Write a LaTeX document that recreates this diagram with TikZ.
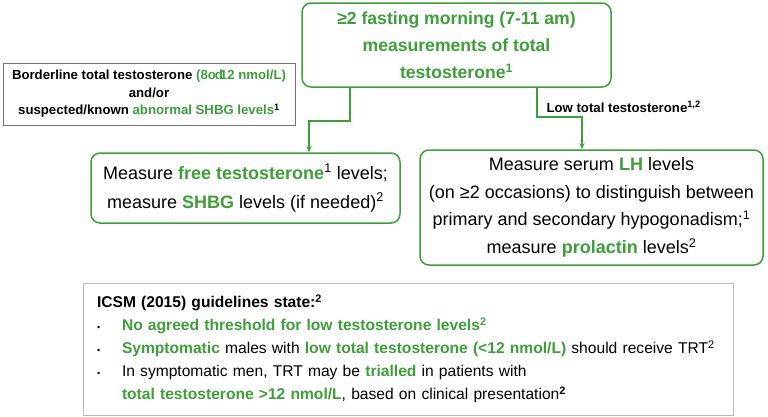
\documentclass[tikz,border=0pt]{standalone}
\usepackage{fontspec}
\setmainfont{Liberation Sans}
\usetikzlibrary{arrows.meta}
\definecolor{tgreen}{RGB}{62,158,58}
\newcommand{\gr}[1]{\textcolor{tgreen}{\textbf{#1}}}
\newcommand{\up}[1]{\textsuperscript{#1}}

\begin{document}
\begin{tikzpicture}[x=1pt,y=-1pt,
  gbox/.style={draw=tgreen,line width=1.5pt,rounded corners=9pt,align=center},
  graybox/.style={draw=black!55,line width=1pt,align=center},
  flow/.style={draw=tgreen,line width=1.3pt,-{Stealth[length=6pt,width=5pt]}}]
  \useasboundingbox (0,0) rectangle (768,416);

  \node[gbox,minimum width=309pt,minimum height=84pt,
    font=\fontsize{17.6}{27}\selectfont\bfseries,text=tgreen] (top) at (456.5,45)
    {≥2 fasting morning (7-11 am)\\measurements of total\\testosterone\up{1}};
  \node[graybox,minimum width=292pt,minimum height=62pt,
    font=\fontsize{13.2}{17.5}\selectfont\bfseries] (border) at (149,94)
    {Borderline total testosterone \textcolor{tgreen}{(8o\kern-1pt d\kern-3pt 12 nmol/L)}\\and/or\\suspected/known \textcolor{tgreen}{abnormal SHBG levels}\up{1}};
  \node[gbox,minimum width=309pt,minimum height=70pt,
    font=\fontsize{18}{29}\selectfont] (free) at (245.5,188)
    {Measure \gr{free testosterone}\up{1} levels;\\measure \gr{SHBG} levels (if needed)\up{2}};
  \node[gbox,minimum width=343pt,minimum height=115pt,
    font=\fontsize{18}{27.5}\selectfont] (lh) at (591.5,207.5)
    {Measure serum \gr{LH} levels\\(on ≥2 occasions) to distinguish between\\primary and secondary hypogonadism;\up{1}\\measure \gr{prolactin} levels\up{2}};
  \node[draw=black!28,line width=1pt,minimum width=650pt,minimum height=132pt,
    inner xsep=14pt,text width=622pt,align=left,
    font=\fontsize{15.6}{23}\selectfont] (icsm) at (408,349)
    {\textbf{ICSM (2015) guidelines state:\up{2}}\\
     \makebox[25pt][l]{\small•}\gr{No agreed threshold for low testosterone levels\up{2}}\\
     \makebox[25pt][l]{\small•}\gr{Symptomatic} males with \gr{low total testosterone (<12 nmol/L)} should receive TRT\up{2}\\
     \makebox[25pt][l]{\small•}In symptomatic men, TRT may be \gr{trialled} in patients with\\
     \hspace*{25pt}\gr{total testosterone >12 nmol/L}, based on clinical presentation\up{\textbf{2}}};

  \coordinate (j1) at (350,121);
  \coordinate (j2) at (309,121);
  \coordinate (j3) at (537,117);
  \coordinate (j4) at (582,117);
  \node[anchor=west,font=\fontsize{13.2}{15}\selectfont\bfseries] (low) at (543,107)
    {Low total testosterone\up{1,2}};

  \draw[flow] (top.south -| j1) -- (j1) -- (j2) -- (free.north -| j2);
  \draw[flow] (top.south -| j3) -- (j3) -- (j4) -- (lh.north -| j4);
\end{tikzpicture}
\end{document}
